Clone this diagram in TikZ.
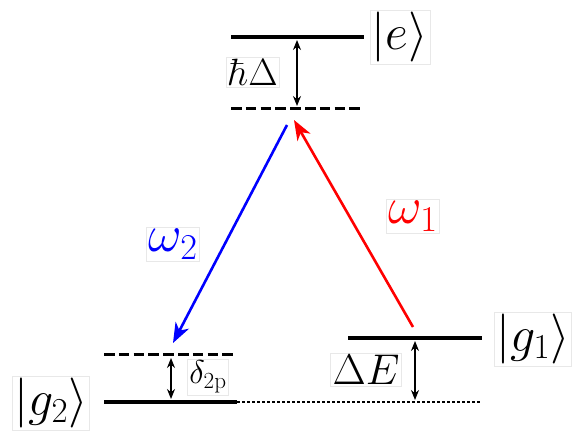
\documentclass[tikz,border=0pt]{standalone}
\usepackage{fix-cm}
\usetikzlibrary{arrows.meta}
\begin{document}
\begin{tikzpicture}[x=1pt,y=-1pt,
  lev/.style={line width=3.5pt},
  virt/.style={line width=3pt,dash pattern=on 10.5pt off 4.3pt},
  refl/.style={line width=1.2pt,dash pattern=on 3pt off 2pt},
  gap/.style={line width=1.3pt,{Stealth[length=10pt,width=8pt]}-{Stealth[length=10pt,width=8pt]}},
  beam/.style={line width=2.6pt,-{Stealth[length=20pt,width=15pt,inset=6pt]}},
  lbl/.style={draw=black!9,line width=0.6pt,inner sep=2pt,fill=white},
]
\useasboundingbox (0,0) rectangle (573,435);
% levels
\coordinate (eL) at (231,37); \coordinate (eR) at (364,37);
\coordinate (vL) at (231,109); \coordinate (vR) at (364,109);
\coordinate (g1L) at (348,338); \coordinate (g1R) at (482,338);
\coordinate (g2L) at (104,402); \coordinate (g2R) at (237,402);
\coordinate (wL) at (104,355); \coordinate (wR) at (236,355);
\coordinate (rEnd) at (481,402);
\draw[lev] (eL) -- (eR);
\draw[virt] (vL) -- (vR);
\draw[lev] (g1L) -- (g1R);
\draw[lev] (g2L) -- (g2R);
\draw[virt] (wL) -- (wR);
\draw[refl] (g2R) -- (rEnd);
% gaps
\coordinate (d1a) at (297,40); \coordinate (d1b) at (297,106);
\coordinate (d2a) at (171,358); \coordinate (d2b) at (171,399);
\coordinate (d3a) at (415,341); \coordinate (d3b) at (415,400);
\draw[gap] (d1a) -- (d1b);
\draw[gap] (d2a) -- (d2b);
\draw[gap] (d3a) -- (d3b);
% beams
\coordinate (rS) at (413,327); \coordinate (rT) at (294,120);
\coordinate (bS) at (287,125); \coordinate (bT) at (173,343);
\draw[beam,red] (rS) -- (rT);
\draw[beam,blue] (bS) -- (bT);
% labels
\node[lbl] (le) at (400,37) {\fontsize{50}{60}\selectfont $|e\rangle$};
\node[lbl] (lg1) at (533,339) {\fontsize{50}{60}\selectfont $|g_1\rangle$};
\node[lbl] (lg2) at (51,403) {\fontsize{50}{60}\selectfont $|g_2\rangle$};
\node[lbl] (lhd) at (253,72) {\fontsize{38}{46}\selectfont $\hbar\Delta$};
\node[lbl] (lde) at (366,370) {\fontsize{43}{52}\selectfont $\Delta E$};
\node[lbl] (ld2) at (208,377) {\fontsize{33}{40}\selectfont $\delta_{2\mathrm{p}}$};
\node[lbl,text=red] (lw1) at (413,216) {\fontsize{52}{62}\selectfont $\omega_1$};
\node[lbl,text=blue] (lw2) at (173,244) {\fontsize{52}{62}\selectfont $\omega_2$};
\end{tikzpicture}
\end{document}
